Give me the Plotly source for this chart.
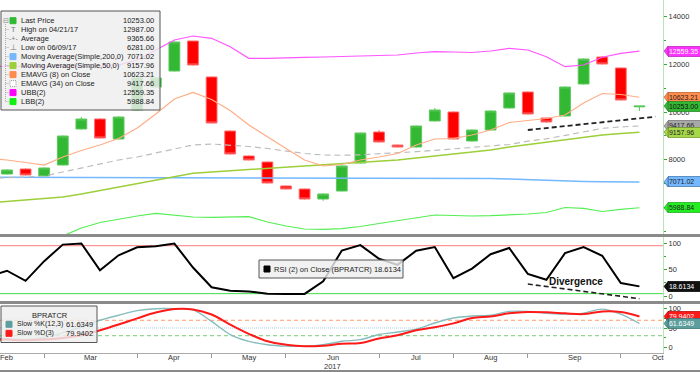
import plotly.graph_objects as go
import pandas as pd

# ---------------- data ----------------
dates = ["2017-02-10", "2017-02-17", "2017-02-24", "2017-03-03", "2017-03-10", "2017-03-17", "2017-03-24",
         "2017-03-31", "2017-04-07", "2017-04-14", "2017-04-21", "2017-04-28", "2017-05-05", "2017-05-12",
         "2017-05-19", "2017-05-26", "2017-06-02", "2017-06-09", "2017-06-16", "2017-06-23", "2017-06-30",
         "2017-07-07", "2017-07-14", "2017-07-21", "2017-07-28", "2017-08-04", "2017-08-11", "2017-08-18",
         "2017-08-25", "2017-09-01", "2017-09-08", "2017-09-15", "2017-09-22", "2017-09-29", "2017-10-06"]
prior_date = ["2017-02-03"]
line_dates = prior_date + dates

opens = [7404, 7614, 7321, 7781, 9291, 9710, 8872, 10088, 11052, 11723, 12981, 11472, 9207, 8159, 7907, 6901,
         6775, 6356, 6691, 7865, 9165, 8620, 8536, 9627, 10004, 8788, 9249, 10172, 10843, 9752, 9836, 11178,
         12310, 11849, 10220]
closes = [7572, 7362, 7656, 8997, 9710, 8914, 9794, 11430, 11430, 12939, 11975, 9543, 8243, 7991, 7027, 6775,
          6356, 6566, 7740, 9123, 8746, 8536, 9417, 10088, 8872, 9249, 10046, 10801, 9920, 9585, 11052, 12226,
          12017, 10507, 10253]
highs = [7600, 7640, 7680, 9020, 9800, 9740, 9820, 11460, 11460, 12960, 12987, 11500, 9230, 8180, 7930, 6920,
         6790, 6590, 7760, 9140, 9250, 8640, 9440, 10170, 10030, 9270, 10070, 10820, 10870, 9770, 11070, 12250,
         12350, 11870, 10253]
lows = [7380, 7340, 7300, 7760, 9270, 8890, 8850, 10060, 11030, 11700, 11950, 9520, 8220, 7970, 7000, 6750,
        6330, 6281, 6670, 7840, 8720, 8510, 8510, 9600, 8850, 8760, 9230, 10150, 9900, 9550, 9810, 11150,
        11990, 10480, 10046]

ema8 = [8055, 7991, 7886, 7781, 8117, 8390, 8620, 8893, 9333, 9920, 10549, 10822, 10528, 10067, 9459, 8956,
        8474, 7991, 7740, 7803, 7991, 8117, 8264, 8620, 8872, 8893, 9040, 9249, 9564, 9648, 9731, 9878, 10381,
        10779, 10738, 10623.21]
ema34 = [7216, 7237, 7279, 7321, 7489, 7677, 7845, 7991, 8117, 8285, 8453, 8620, 8662, 8620, 8558, 8474, 8369,
         8264, 8201, 8189, 8210, 8243, 8285, 8340, 8398, 8453, 8516, 8578, 8641, 8780, 8880, 9020, 9170, 9320,
         9380, 9417.66]
ma50 = [6189, 6252, 6314, 6377, 6440, 6570, 6717, 6860, 7006, 7144, 7295, 7434, 7490, 7540, 7585, 7622, 7664,
        7719, 7782, 7824, 7866, 7929, 7991, 8075, 8159, 8222, 8306, 8411, 8536, 8641, 8746, 8851, 8956, 9040,
        9102, 9157.96]
ma200 = [7264, 7262, 7262, 7260, 7258, 7256, 7254, 7252, 7250, 7248, 7246, 7244, 7242, 7240, 7238, 7236, 7236,
         7236, 7235, 7234, 7234, 7234, 7232, 7230, 7228, 7224, 7218, 7210, 7190, 7160, 7125, 7105, 7090, 7080,
         7075, 7071.02]
ubb = [11912, 11912, 11912, 11912, 11912, 11912, 11933, 11975, 12185, 12604, 13023, 13191, 13094, 12742, 12256,
       12254, 12289, 12296, 12310, 12331, 12331, 12360, 12394, 12478, 12532, 12520, 12499, 12562, 12675, 12604,
       12323, 11904, 11975, 12298, 12465, 12559.35]
lbb = [3673, 3966, 4235, 4511, 4805, 5140, 5371, 5518, 5643, 5756, 5664, 5601, 5589, 5601, 5614, 5392, 5224,
       5098, 5085, 5111, 5203, 5329, 5455, 5560, 5685, 5664, 5643, 5656, 5685, 5727, 5790, 6000, 5966, 5832,
       5924, 5988.84]

div_dates = ["2017-08-25", "2017-10-12"]
div_price = [9249, 9807]

rsi = [37, 48, 29, 66, 97, 99, 49, 77, 92, 94, 99, 54, 17, 10.5, 9, 5, 4.5, 4.5, 28, 86, 96, 70.5, 59, 85.6,
       92.5, 34, 52, 79, 90.6, 42, 31, 81, 92.5, 76, 25, 18.6134]
rsi_div_dates = ["2017-08-25", "2017-10-06"]
rsi_div = [23, -4.5]
rsi_levels = [95, 5]

stoch_k = [23, 22, 20, 25, 38, 52, 70, 83, 95, 100, 100, 97, 67, 33, 15.5, 6.7, 3, 2.6, 6.7, 15.5, 20, 33, 39.6,
           47, 63, 76, 81, 83, 93, 93, 88, 86, 88.6, 99, 86, 61.6349]
stoch_d = [21, 20, 18, 20, 24, 31, 44, 59, 75, 90, 99, 98, 85, 59, 35, 15.5, 6.7, 2.6, 4, 9, 11, 23, 31, 44, 52,
           62, 76, 80, 88, 91.5, 90.6, 88, 86, 93, 91.5, 79.9402]
stoch_levels = [70, 50, 30]

month_ends = ["2017-01-27", "2017-02-24", "2017-03-31", "2017-04-28", "2017-05-26", "2017-06-30", "2017-07-28",
              "2017-08-25", "2017-09-29", "2017-10-27"]
month_labels = ["Feb", "Mar", "Apr", "May", "Jun", "Jul", "Aug", "Sep", "Oct"]
year_label = "2017"

price_ticks = [8000, 10000, 12000, 14000]
price_tick_text = ["8000", "10000", "12000", "14000"]
osc_ticks = [0, 50, 100]
osc_tick_text = ["0", "50", "100"]

legend_labels = ["Last Price", "High on 04/21/17", "Average", "Low on 06/09/17",
                 "Moving Average(Simple,200,0)", "Moving Average(Simple,50,0)", "EMAVG (8) on Close",
                 "EMAVG (34) on Close", "UBB(2)", "LBB(2)"]
legend_values = ["10253.00", "12987.00", "9365.66", "6281.00", "7071.02", "9157.96", "10623.21", "9417.66",
                 "12559.35", "5988.84"]

# ---------------- style ----------------
FONT = "Liberation Sans, Arial, sans-serif"
GREEN = "#33b833"
RED = "#ff0000"
C_UBB = "#ff55ff"
C_LBB = "#55ee55"
C_MA200 = "#74b8ff"
C_MA50 = "#9ccf3a"
C_EMA8 = "#ffad85"
C_EMA34 = "#bdbdbd"

PW, PH = 663.0, 353.0


def px(x):
    return x / PW


def py(y):
    return (PH - y) / PH


x_range = ["2017-02-07 09:00", "2017-10-14 21:00"]

fig = go.Figure()

# main panel
fig.add_trace(go.Candlestick(
    x=dates, open=opens, high=highs, low=lows, close=closes, xaxis="x", yaxis="y",
    increasing=dict(fillcolor=GREEN, line=dict(color="#5cc85c", width=1)),
    decreasing=dict(fillcolor=RED, line=dict(color="#ff6a6a", width=1)),
    whiskerwidth=0, hoverinfo="skip"))


def add_line(x, y, color, width, dash=None, xa="x", ya="y", shape="linear"):
    fig.add_trace(go.Scatter(x=x, y=y, mode="lines", xaxis=xa, yaxis=ya, hoverinfo="skip",
                             line=dict(color=color, width=width, dash=dash, shape=shape)))


add_line(line_dates, ubb, C_UBB, 1.2)
add_line(line_dates, lbb, C_LBB, 1.2)
add_line(line_dates, ma200, C_MA200, 1.5)
add_line(line_dates, ma50, C_MA50, 1.5)
add_line(line_dates, ema34, C_EMA34, 1.2, dash="6px,4px")
add_line(line_dates, ema8, C_EMA8, 1.2)
add_line(div_dates, div_price, "#222222", 1.8, dash="5px,3px")

# RSI panel
add_line(line_dates, rsi, "#000000", 2, xa="x2", ya="y2")
add_line(rsi_div_dates, rsi_div, "#222222", 1.6, dash="5px,3px", xa="x2", ya="y2")

# Stochastic panel
add_line(line_dates, stoch_k, "#86bcbc", 1.4, xa="x3", ya="y3", shape="spline")
add_line(line_dates, stoch_d, "#ff1a1a", 2, xa="x3", ya="y3", shape="spline")

shapes = []
annotations = []

# RSI level lines
shapes.append(dict(type="line", xref="paper", yref="y2", x0=0, x1=1, y0=rsi_levels[0], y1=rsi_levels[0],
                   line=dict(color="#ff7a7a", width=1), layer="below"))
shapes.append(dict(type="line", xref="paper", yref="y2", x0=0, x1=1, y0=rsi_levels[1], y1=rsi_levels[1],
                   line=dict(color="#44dd44", width=1), layer="below"))
# Stoch level lines
shapes.append(dict(type="line", xref="paper", yref="y3", x0=0, x1=1, y0=stoch_levels[0], y1=stoch_levels[0],
                   line=dict(color="#ff9a66", width=1, dash="4px,3px"), layer="below"))
shapes.append(dict(type="line", xref="paper", yref="y3", x0=0, x1=1, y0=stoch_levels[1], y1=stoch_levels[1],
                   line=dict(color="#a9cfe0", width=1.2, dash="1px,1px"), layer="below"))
shapes.append(dict(type="line", xref="paper", yref="y3", x0=0, x1=1, y0=stoch_levels[2], y1=stoch_levels[2],
                   line=dict(color="#77cc77", width=1, dash="4px,3px"), layer="below"))

# panel separators
for yy in (235.5, 302.5):
    shapes.append(dict(type="line", xref="paper", yref="paper", x0=0, x1=px(700), y0=py(yy), y1=py(yy),
                       line=dict(color="#8a8a8a", width=3), layer="above"))
shapes.append(dict(type="line", xref="paper", yref="paper", x0=0, x1=px(700), y0=py(371), y1=py(371),
                   line=dict(color="#8a8a8a", width=2), layer="above"))


def box(x0, y0, x1, y1):
    shapes.append(dict(type="rect", xref="paper", yref="paper", x0=px(x0), x1=px(x1), y0=py(y1), y1=py(y0),
                       fillcolor="rgba(238,238,238,0.82)", line=dict(color="#555555", width=1), layer="above"))


def square(x, y, color, dashed=False):
    shapes.append(dict(type="rect", xref="paper", yref="paper", x0=px(x), x1=px(x + 6), y0=py(y + 3),
                       y1=py(y - 3), fillcolor=color,
                       line=dict(color="#999999" if dashed else color, width=1, dash="1px,1px" if dashed else None),
                       layer="above"))


def text(x, y, s, size=7.5, color="#222222", anchor="left", bold=False):
    annotations.append(dict(xref="paper", yref="paper", x=px(x), y=py(y), text=("<b>%s</b>" % s) if bold else s,
                            showarrow=False, xanchor=anchor, yanchor="middle",
                            font=dict(family=FONT, size=size, color=color)))


# main legend box
box(1, 11, 160, 110)
row_y = [20.7, 29.5, 38.5, 47.5, 56.6, 65.6, 74.6, 83.6, 92.6, 101.6]
row_colors = [GREEN, None, None, None, C_MA200, C_MA50, "#ff8c4c", "#ffffff", "#ff00ff", "#11ee11"]
shapes.append(dict(type="line", xref="paper", yref="paper", x0=px(5.5), x1=px(5.5), y0=py(24), y1=py(row_y[-1]),
                   line=dict(color="#aaaaaa", width=1, dash="1px,1px"), layer="above"))
for i, yy in enumerate(row_y):
    if i > 0:
        shapes.append(dict(type="line", xref="paper", yref="paper", x0=px(5.5), x1=px(9), y0=py(yy), y1=py(yy),
                           line=dict(color="#aaaaaa", width=1, dash="1px,1px"), layer="above"))
    c = row_colors[i]
    if c is not None:
        square(10, yy, c, dashed=(c == "#ffffff"))
    text(19, yy, legend_labels[i])
    text(156, yy, legend_values[i], anchor="right")
text(5.5, 20.5, "⊟", size=7, color="#888888", anchor="center")
text(13, row_y[1], "T", size=7.5, color="#777777", anchor="center")
text(13, row_y[2], "-+-", size=7, color="#777777", anchor="center")
text(13, row_y[3], "⊥", size=7.5, color="#777777", anchor="center")

# RSI legend
box(259, 260, 403, 278)
square(264, 269, "#000000")
text(272, 269, "RSI (2) on Close (BPRATCR) %s" % format(rsi[-1], ".4f"))
text(547, 281.5, "Divergence", size=10, color="#111111", bold=True)

# Stoch legend
box(1, 306, 97, 342.5)
text(50, 315.5, "BPRATCR", anchor="center")
square(6, 324.3, "#5c9e9e")
text(15, 324.3, "Slow %K(12,3)", size=7)
text(95.5, 324.3, format(stoch_k[-1], ".4f"), anchor="right")
square(6, 333.3, "#ff1a1a")
text(15, 333.3, "Slow %D(3)", size=7)
text(95.5, 333.3, format(stoch_d[-1], ".4f"), anchor="right")


# right-side value tags
def tag(yref, yval, label, bg, fg, border):
    shapes.append(dict(type="path", xref="paper", yref=yref, xsizemode="pixel", ysizemode="pixel",
                       xanchor=px(664), yanchor=yval, path="M0,0 L4,5 L4,-5 Z",
                       fillcolor=bg, line=dict(color=border, width=0.6), layer="above"))
    annotations.append(dict(xref="paper", yref=yref, x=px(667.5), y=yval, xanchor="left", yanchor="middle",
                            text=label, showarrow=False, align="left", width=34, height=9,
                            bgcolor=bg, bordercolor=border, borderwidth=0.6, borderpad=0.3,
                            font=dict(family=FONT, size=7, color=fg)))


tag("y", ubb[-1], format(ubb[-1], ".2f"), "#ff33ff", "#ffffff", "#aa22aa")
tag("y", ema8[-1], format(ema8[-1], ".2f"), "#ff8c4c", "#222222", "#aa5522")
tag("y", closes[-1], format(closes[-1], ".2f"), "#33b833", "#111111", "#227722")
tag("y", ema34[-1], format(ema34[-1], ".2f"), "#a8a8a8", "#222222", "#666666")
tag("y", ma50[-1], format(ma50[-1], ".2f"), "#a6d84a", "#222222", "#668822")
tag("y", ma200[-1], format(ma200[-1], ".2f"), "#74b8ff", "#222222", "#336699")
tag("y", lbb[-1], format(lbb[-1], ".2f"), "#22ee22", "#222222", "#229922")
tag("y2", rsi[-1], format(rsi[-1], ".4f"), "#111111", "#ffffff", "#000000")
tag("y3", stoch_d[-1], format(stoch_d[-1], ".4f"), "#ff1a1a", "#ffffff", "#aa0000")
tag("y3", stoch_k[-1], format(stoch_k[-1], ".4f"), "#5c9e9e", "#ffffff", "#336666")

# month labels, centred between month-end ticks
ends = pd.to_datetime(month_ends)
mids = [ends[i] + (ends[i + 1] - ends[i]) / 2 for i in range(len(month_labels))]
for m, lab in zip(mids, month_labels):
    annotations.append(dict(xref="x3", yref="paper", x=m, y=py(358), text=lab, showarrow=False,
                            xanchor="center", yanchor="middle", font=dict(family=FONT, size=7.5, color="#333333")))
annotations.append(dict(xref="x3", yref="paper", x=mids[month_labels.index("Jun")], y=py(366), text=year_label,
                        showarrow=False, xanchor="center", yanchor="middle",
                        font=dict(family=FONT, size=7.5, color="#333333")))

axis_common = dict(showgrid=False, zeroline=False, side="right", showline=True, linecolor="#b8e2b8",
                   linewidth=1, ticks="outside", ticklen=3, tickcolor="#33aa33",
                   tickfont=dict(family=FONT, size=7.5, color="#333333"))
xaxis_common = dict(showgrid=False, zeroline=False, range=x_range, type="date")

fig.update_layout(
    width=700, height=372,
    margin=dict(l=0, r=37, t=0, b=19),
    paper_bgcolor="white", plot_bgcolor="white",
    showlegend=False,
    boxgap=0.17,
    font=dict(family=FONT, size=8, color="#333333"),
    xaxis=dict(**xaxis_common, anchor="y", domain=[0, 1], showticklabels=False, ticks="",
               rangeslider=dict(visible=False), matches="x3"),
    xaxis2=dict(**xaxis_common, anchor="y2", domain=[0, 1], showticklabels=False, ticks="", matches="x3"),
    xaxis3=dict(**xaxis_common, anchor="y3", domain=[0, 1], tickvals=month_ends[1:-1],
                ticktext=[""] * (len(month_ends) - 2), ticks="outside", ticklen=4, tickcolor="#999999",
                showline=True, linecolor="#aaaaaa"),
    yaxis=dict(**axis_common, anchor="x", domain=[py(234), 1], range=[4888, 14700],
               tickvals=price_ticks, ticktext=price_tick_text,
               minor=dict(tickvals=[5000, 6000, 7000, 9000, 11000, 13000], ticks="outside", ticklen=2,
                          tickcolor="#33aa33")),
    yaxis2=dict(**axis_common, anchor="x2", domain=[py(301), py(237)], range=[-8.8, 111.3],
                tickvals=osc_ticks, ticktext=osc_tick_text,
                minor=dict(tickvals=[25, 75], ticks="outside", ticklen=2, tickcolor="#33aa33")),
    yaxis3=dict(**axis_common, anchor="x3", domain=[0, py(304)], range=[-14.8, 112.2],
                tickvals=osc_ticks, ticktext=osc_tick_text,
                minor=dict(tickvals=[25, 75], ticks="outside", ticklen=2, tickcolor="#33aa33")),
    shapes=shapes,
    annotations=annotations,
)

fig.write_html("out.html", config={"displayModeBar": False},
               post_script="document.body.style.margin='0px';")
